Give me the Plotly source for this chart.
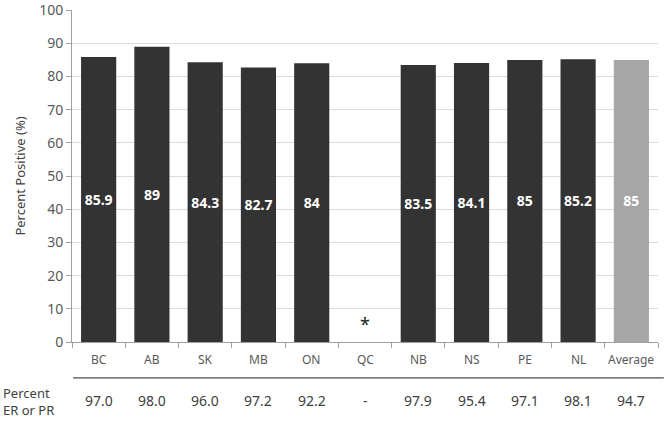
import plotly.graph_objects as go

categories = ["BC", "AB", "SK", "MB", "ON", "QC", "NB", "NS", "PE", "NL", "Average"]
percent_positive = [85.9, 89, 84.3, 82.7, 84, None, 83.5, 84.1, 85, 85.2, 85]
er_or_pr = ["97.0", "98.0", "96.0", "97.2", "92.2", "-", "97.9", "95.4", "97.1", "98.1", "94.7"]
y_ticks = [0, 10, 20, 30, 40, 50, 60, 70, 80, 90, 100]
bar_colors = ["#333333"] * 10 + ["#a6a6a6"]

FONT = "Noto Sans"

fig = go.Figure()
fig.add_trace(go.Bar(
    x=categories,
    y=[v if v is not None else 0 for v in percent_positive],
    marker=dict(color=bar_colors, line=dict(width=0)),
    text=[("" if v is None else f"{v:g}") for v in percent_positive],
    textposition="inside",
    insidetextanchor="middle",
    textangle=0,
    textfont=dict(family=FONT, size=14, color="white", weight="bold"),
    cliponaxis=False,
    hoverinfo="skip",
))

fig.add_annotation(x="QC", y=5.5, text="*", showarrow=False,
                   font=dict(family=FONT, size=18, color="#222222"))

# category labels under the axis
for c in categories:
    fig.add_annotation(x=c, xref="x", y=-0.054, yref="paper", yanchor="middle", text=c,
                       showarrow=False, font=dict(family=FONT, size=12, color="#595959"))

# table row
for c, v in zip(categories, er_or_pr):
    fig.add_annotation(x=c, xref="x", y=-0.175, yref="paper", yanchor="middle", text=v,
                       showarrow=False, font=dict(family=FONT, size=14, color="#404040"))

fig.add_annotation(x=-0.122, xref="paper", y=-0.178, yref="paper", yanchor="middle",
                   text="Percent<br>ER or PR", align="left", xanchor="left",
                   showarrow=False, font=dict(family=FONT, size=13, color="#404040"))

# separator line above the table row (shape + arrow-annotation fallback)
fig.add_shape(type="line", xref="paper", yref="paper", x0=0.002, x1=1.0102,
              y0=-0.108, y1=-0.108, layer="above",
              line=dict(color="#7f7f7f", width=1.5))
fig.add_annotation(x=0.002, xref="paper", y=-0.108, yref="paper",
                   ax=592, ay=0, axref="pixel", ayref="pixel",
                   text="", showarrow=True, arrowhead=0, arrowwidth=1.5,
                   arrowcolor="#7f7f7f", standoff=0, startstandoff=0)

fig.update_layout(
    width=664, height=422,
    margin=dict(l=72, r=6, t=10, b=80, autoexpand=False),
    paper_bgcolor="white", plot_bgcolor="white",
    bargap=0.34,
    showlegend=False,
    font=dict(family=FONT, size=13, color="#595959"),
    xaxis=dict(
        tickson="boundaries", ticks="outside", ticklen=5, tickcolor="#a0a0a0",
        showline=True, linecolor="#a0a0a0", linewidth=1,
        showticklabels=False, automargin=False,
        showgrid=False,
    ),
    yaxis=dict(
        range=[0, 100.05], tickmode="array", tickvals=y_ticks,
        ticks="outside", ticklen=5, tickcolor="#a0a0a0",
        showline=True, linecolor="#a0a0a0", linewidth=1,
        gridcolor="#dcdcdc", gridwidth=1,
        tickfont=dict(family=FONT, size=14, color="#595959"),
        title=dict(text="Percent Positive (%)", font=dict(family=FONT, size=13, color="#404040"), standoff=10),
        zeroline=False, automargin=False,
    ),
)

fig.write_html("out.html", config={"displayModeBar": False},
               post_script="document.body.style.margin='0';")
